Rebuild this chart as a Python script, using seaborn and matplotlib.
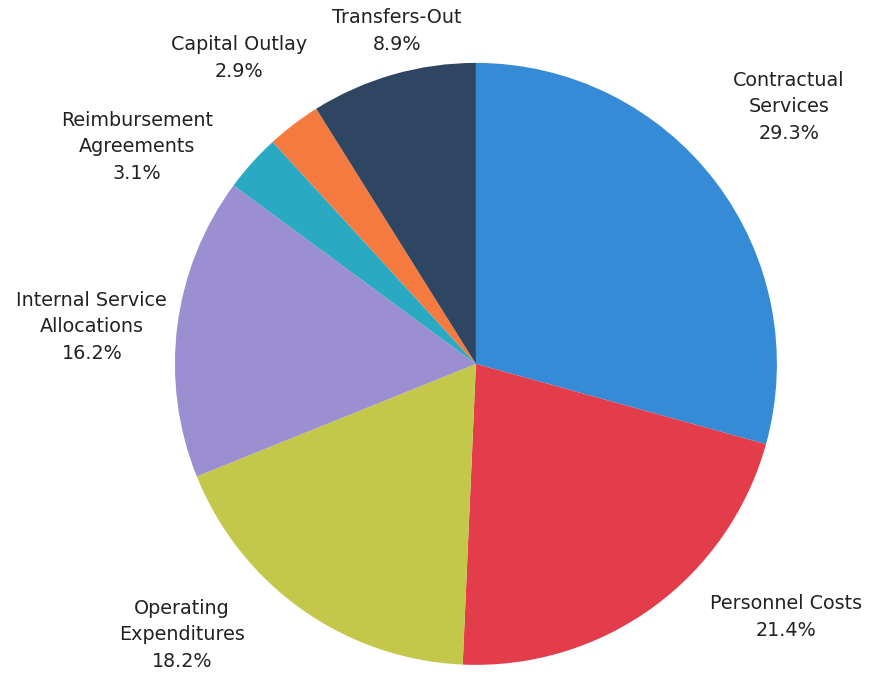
#%%
'''PACKAGE IMPORTS'''
import matplotlib
matplotlib.use('Agg')
import matplotlib.pyplot as plt
import seaborn as sns

#%%
'''Data'''
categories = ['Contractual\nServices', 'Personnel Costs', 'Operating\nExpenditures',
              'Internal Service\nAllocations', 'Reimbursement\nAgreements',
              'Capital Outlay', 'Transfers-Out']
shares = [29.3, 21.4, 18.2, 16.2, 3.1, 2.9, 8.9]
colors = ['#368bd6', '#e33c4b', '#c4c84a', '#9b8fd2', '#2aa9c2', '#f57a40', '#2f4662']

#Label centres in pie radius units (layout only)
labelPos = [(1.04, 0.854), (1.03, -0.841), (-0.977, -0.90), (-1.276, 0.123),
            (-1.126, 0.721), (-0.787, 1.017), (-0.262, 1.106)]

#%%
sns.set_style('white')
plt.rcParams['font.family'] = ['DejaVu Sans']

fig = plt.figure(figsize = (8.76, 6.76), dpi = 100)
ax = fig.add_axes([0, 0, 1, 1])

wedges, _ = ax.pie(shares, colors = colors, startangle = 90,
                   counterclock = False, radius = 1.0,
                   wedgeprops = dict(linewidth = 0))

for lab, val, (x, y) in zip(categories, shares, labelPos):
    ax.text(x, y, f'{lab}\n{val:.1f}%', ha = 'center', va = 'center',
            fontsize = 13.8, color = '#222222', linespacing = 1.5)

ax.set_xlim(-1.581, 1.329)
ax.set_ylim(-1.037, 1.209)
ax.set_aspect('equal')
ax.axis('off')

plt.savefig('out.png', dpi = 100)
